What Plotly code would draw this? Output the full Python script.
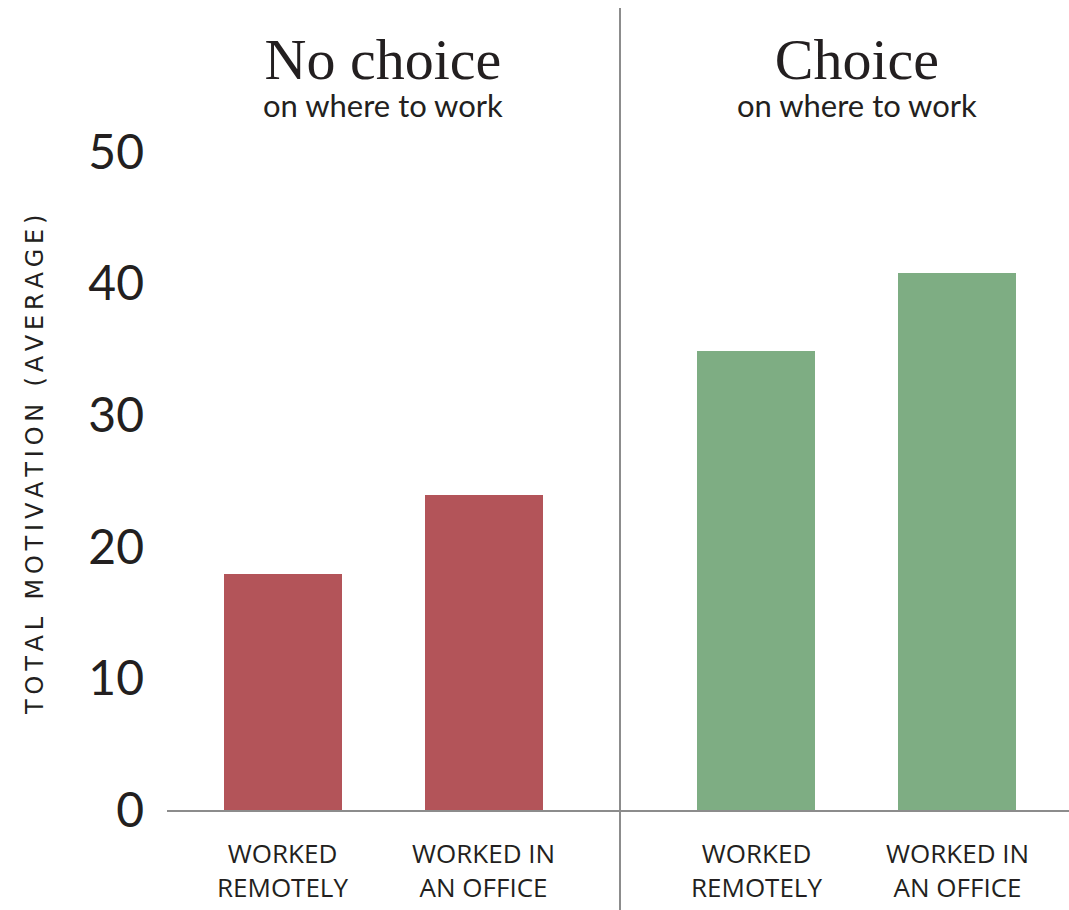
import plotly.graph_objects as go

# Average total motivation by work location, split by whether people could choose
groups = ["No choice", "Choice"]
group_subtitle = "on where to work"
categories = ["WORKED<br>REMOTELY", "WORKED IN<br>AN OFFICE"]
no_choice_values = [17.9, 23.9]
choice_values = [34.9, 40.8]
y_ticks = [0, 10, 20, 30, 40, 50]
y_title = "TOTAL MOTIVATION (AVERAGE)"

series = [no_choice_values, choice_values]
colors = ["#B35459", "#7EAD83"]

W, H = 1069, 910
M_L, M_R, M_T, M_B = 167, 0, 152, 100
plot_h = H - M_T - M_B

GROUP_STEP = 2.355   # distance between first bars of the two groups
BAR_W = 0.587
X_RANGE = [-0.577, -0.577 + (W - M_L - M_R) / 201.0]

TEXT = "#231f20"
AXIS = "#8c8c8c"


def py(px):
    """Convert a pixel row to paper y."""
    return (H - M_B - px) / plot_h


fig = go.Figure()
for g, vals in enumerate(series):
    xs = [g * GROUP_STEP + i for i in range(len(vals))]
    fig.add_trace(go.Bar(
        x=xs, y=vals, width=BAR_W,
        marker=dict(color=colors[g], line=dict(width=0)),
        showlegend=False, hoverinfo="y",
    ))

annotations = []
for g, name in enumerate(groups):
    cx = g * GROUP_STEP + 0.5
    header = (
        f"<span style='font-family:\"Liberation Serif\";font-size:58px'>{name}</span>"
        f"<br><span style='font-size:31px'>{group_subtitle}</span>"
    )
    annotations.append(dict(
        x=cx, xref="x", y=py(75), yref="paper", text=header, showarrow=False,
        xanchor="center", yanchor="middle", align="center", borderpad=0,
        font=dict(family="Lato", size=29, color=TEXT)))
    for i, cat in enumerate(categories):
        annotations.append(dict(
            x=g * GROUP_STEP + i, xref="x", y=py(870), yref="paper",
            text=cat, showarrow=False, xanchor="center", yanchor="middle",
            align="center", borderpad=0,
            font=dict(family="Open Sans", size=26, color=TEXT)))

annotations.append(dict(
    x=(35 - M_L) / (W - M_L - M_R), xref="paper", y=py(465), yref="paper",
    text="\u2009".join(y_title), showarrow=False, textangle=-90,
    xanchor="center", yanchor="middle",
    font=dict(family="DejaVu Sans", size=24, color=TEXT)))

shapes = [dict(
    type="line", xref="paper", yref="paper",
    x0=(620 - M_L) / (W - M_L - M_R), x1=(620 - M_L) / (W - M_L - M_R),
    y0=py(H), y1=py(8), line=dict(color=AXIS, width=2))]

fig.update_layout(
    width=W, height=H,
    margin=dict(l=M_L, r=M_R, t=M_T, b=M_B, pad=0),
    paper_bgcolor="white", plot_bgcolor="white",
    bargap=0,
    xaxis=dict(range=X_RANGE, showticklabels=False, showgrid=False, zeroline=False,
               showline=True, linecolor=AXIS, linewidth=2, ticks="", fixedrange=True),
    yaxis=dict(range=[0, 50], tickvals=y_ticks, showgrid=False, zeroline=False,
               showline=False, ticks="", ticklabelstandoff=22,
               tickfont=dict(family="Lato", size=48, color=TEXT), fixedrange=True),
    annotations=annotations, shapes=shapes,
)

fig.write_html("out.html")
